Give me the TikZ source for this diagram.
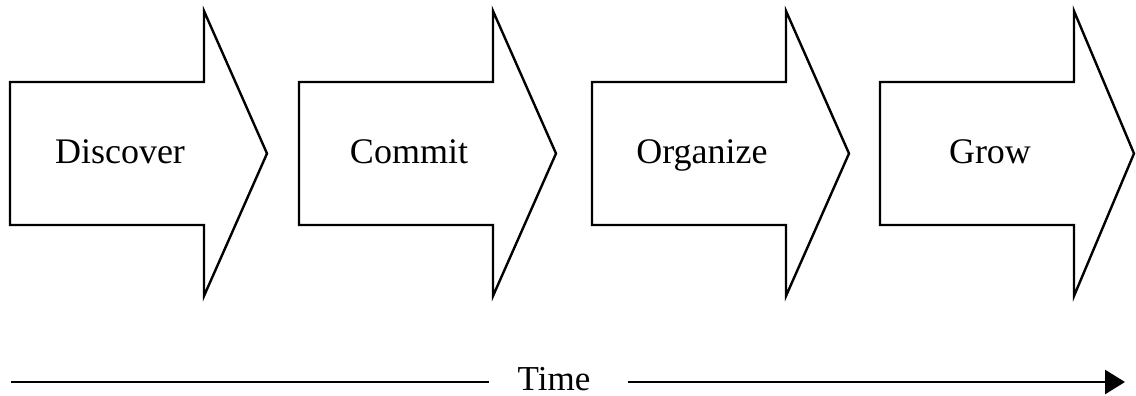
\documentclass[tikz,border=0pt]{standalone}
\usepackage{fontspec}
\setmainfont{Liberation Serif}
\usetikzlibrary{arrows.meta}
\begin{document}
\begin{tikzpicture}[x=1pt,y=-1pt,
  stagearrow/.style={draw=black,line width=2.4pt,line join=miter,fill=white},
  stagelabel/.style={anchor=base,inner sep=0pt,font=\fontsize{36}{40}\selectfont},
  timeline/.style={draw=black,line width=2.8pt},
  timelabel/.style={anchor=base,inner sep=0pt,font=\fontsize{35}{40}\selectfont}]
\useasboundingbox (0,0) rectangle (1136,396);
\foreach \L/\nm/\txt/\tip in {10/discover/Discover/257,299/commit/Commit/257,592/organize/Organize/257,880/grow/Grow/254}{
  \path[stagearrow] (\L,82) -- ({\L+194},82) -- ({\L+194},11) -- ({\L+\tip},153.5)
     -- ({\L+194},296) -- ({\L+194},225) -- (\L,225) -- cycle;
  \node[stagelabel] (\nm) at ({\L+110},163) {\txt};
}
\node[timelabel] (time) at (554,390) {Time};
\coordinate (tl) at (11,382);
\coordinate (tr) at (1125,382);
\draw[timeline] (tl) -- ([xshift=-28pt]time.west |- tl);
\draw[timeline,-{Triangle[length=20pt,width=24pt]}] ([xshift=37pt]time.east |- tr) -- (tr);
\end{tikzpicture}
\end{document}
